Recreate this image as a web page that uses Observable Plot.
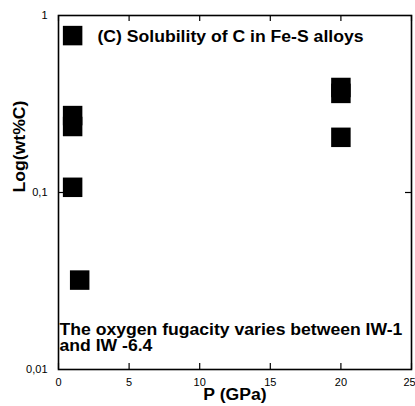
<!DOCTYPE html>
<html>
<head>
<meta charset="utf-8">
<script src="https://cdn.jsdelivr.net/npm/d3@7"></script>
<script src="https://cdn.jsdelivr.net/npm/@observablehq/plot@0.6"></script>
<style>
  html, body { margin: 0; padding: 0; background: #fff; }
  svg { display: block; }
</style>
</head>
<body>
<div id="chart"></div>
<script>
const pressure = [1, 1, 1, 1, 1.5, 20, 20, 20];
const carbon = [0.77, 0.272, 0.236, 0.107, 0.032, 0.392, 0.363, 0.205];
const xTicks = [0, 5, 10, 15, 20, 25];
const yTicks = [1, 0.1, 0.01];
const yTickLabels = ["1", "0,1", "0,01"];
const title = "(C) Solubility of C in Fe-S alloys";
const note = ["The oxygen fugacity varies between IW-1", "and IW -6.4"];
const xLabel = "P (GPa)";
const yLabel = "Log(wt%C)";

const data = pressure.map((p, i) => ({p, c: carbon[i]}));

const W = 415, H = 406;
const mt = 15, mb = 37, ml = 58, mr = 4;
const innerH = H - mt - mb, innerW = W - ml - mr;
const font = "Liberation Sans, Arial, Helvetica, sans-serif";

const chart = Plot.plot({
  width: W, height: H,
  marginTop: mt, marginBottom: mb, marginLeft: ml, marginRight: mr,
  style: {fontFamily: font, background: "#fff", overflow: "visible"},
  x: {domain: [0, 25]},
  y: {type: "log", domain: [0.01, 1]},
  marks: [
    Plot.frame({stroke: "#000", strokeWidth: 1.6}),
    Plot.tickX(xTicks, {x: d => d, insetTop: innerH - 6, stroke: "#000", strokeWidth: 1.2}),
    Plot.tickX(xTicks, {x: d => d, insetBottom: innerH - 6, stroke: "#000", strokeWidth: 1.2}),
    Plot.tickY([0.1], {y: d => d, insetRight: innerW - 6, stroke: "#000", strokeWidth: 1.2}),
    Plot.tickY([0.1], {y: d => d, insetLeft: innerW - 6, stroke: "#000", strokeWidth: 1.2}),
    Plot.axisX({ticks: xTicks.slice(0, -1), tickSize: 0, tickPadding: 9, fontSize: 10, label: null, tickFormat: d => String(d)}),
    Plot.axisX({ticks: xTicks.slice(-1), tickSize: 0, tickPadding: 9, fontSize: 10, label: null, dx: -2, tickFormat: d => String(d)}),
    Plot.axisY({ticks: yTicks, tickSize: 0, tickPadding: 11, fontSize: 10, label: null,
      tickFormat: d => yTickLabels[yTicks.indexOf(d)]}),
    Plot.dot(data, {x: "p", y: "c", symbol: "square", r: 11, fill: "#000", stroke: "none"}),
    Plot.text([title], {frameAnchor: "top-left", dx: 39, dy: 15, text: d => d, textAnchor: "start",
      fontSize: 16, fontWeight: "bold", fill: "#000"}),
    Plot.text([note.join("\n")], {frameAnchor: "bottom-left", dx: 1, dy: -19, text: d => d, textAnchor: "start",
      lineHeight: 0.97, fontSize: 16, fontWeight: "bold", fill: "#000"}),
    Plot.text([xLabel], {frameAnchor: "bottom", dy: 30, text: d => d,
      fontSize: 16, fontWeight: "bold", fill: "#000"}),
    Plot.text([yLabel], {frameAnchor: "left", dx: -39, rotate: -90, text: d => d,
      fontSize: 16, fontWeight: "bold", fill: "#000"})
  ]
});
document.getElementById("chart").appendChild(chart);

// The reference lettering is slightly wider than Liberation Sans: stretch horizontally.
const STRETCH = 1.1;
chart.querySelectorAll("text").forEach(t => {
  const spans = t.querySelectorAll("tspan");
  const targets = spans.length ? Array.from(spans) : [t];
  targets.forEach(el => {
    const len = el.getComputedTextLength();
    if (len > 0) {
      el.setAttribute("textLength", (len * STRETCH).toFixed(1));
      el.setAttribute("lengthAdjust", "spacingAndGlyphs");
    }
  });
});
</script>
</body>
</html>
